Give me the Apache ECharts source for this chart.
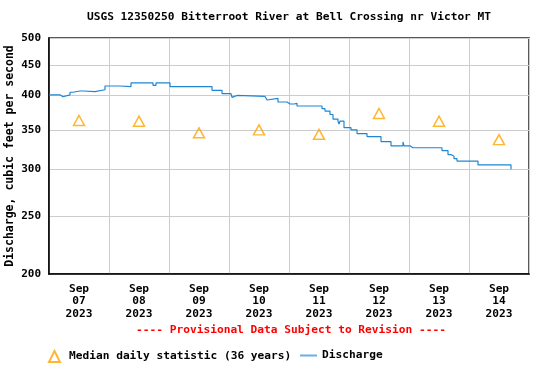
<!DOCTYPE html>
<html><head><meta charset="utf-8">
<script src="https://cdn.jsdelivr.net/npm/echarts@6/dist/echarts.min.js"></script>
<style>html,body{margin:0;padding:0;background:#fff}#c{width:550px;height:367px}</style>
</head><body><div id="c"></div><script>
const titleText = 'USGS 12350250 Bitterroot River at Bell Crossing nr Victor MT';
const noteText = '---- Provisional Data Subject to Revision ----';
const yAxisName = 'Discharge, cubic feet per second';
const medianName = 'Median daily statistic (36 years)';
const dischargeName = 'Discharge';
const startDay = [2023, 8, 7];
const dayCount = 8;
const yTicks = [200, 250, 300, 350, 400, 450, 500];
// median daily statistic, one per day (at noon)
const medianValues = [363, 362, 346, 350, 344, 373, 362, 337];
// discharge step breakpoints: hours since Sep 07 00:00 and cfs
const dischargeHours = [0, 4.4, 5.6, 8.4, 9.6, 12.4, 13.2, 14, 14.4, 18.4, 22.4, 26.4, 27.2, 28.4, 29.2, 32.8, 41.6, 42.8,
  48.4, 50, 50.8, 54, 54.8, 55.6, 56.4, 65.2, 69.2, 72.8, 73.2, 73.6, 75.2, 86.4, 87.2, 87.6, 91.6,
  95.2, 96.4, 96.8, 98, 98.8, 99.2, 109.2, 110.4, 112.4, 113.6, 115.6, 116, 116.4, 118, 120.8, 123.2, 127.2,
  132.8, 136.8, 141.6, 142, 144.4, 144.8, 145.2, 145.6, 146, 157.2, 159.6, 160.8, 162, 163.2, 171.6, 184.8];
const dischargeValues = [401, 398, 401, 405, 407, 405, 407, 409, 406, 409, 415, 412, 415, 412, 414, 420, 416, 420,
  414, 411, 414, 411, 414, 411, 414, 408, 403, 400, 397, 400, 398.5, 395.5, 393, 395.5, 390,
  387, 385, 387, 385, 388, 384, 380, 376.5, 371.5, 365, 362, 358, 362, 353, 350, 345, 341,
  334.5, 329, 334, 329, 326.5, 329, 326.5, 329, 326.5, 323, 318, 316, 313, 310, 305.5, 300.5];

const HOUR = 3600000, DAY = 24 * HOUR;
const t0 = Date.UTC(startDay[0], startDay[1], startDay[2]);
const noons = [], mids = [];
for (let i = 0; i < dayCount; i++) noons.push(t0 + i * DAY + 12 * HOUR);
for (let i = 0; i <= dayCount; i++) mids.push(t0 + i * DAY);
const months = ['Jan','Feb','Mar','Apr','May','Jun','Jul','Aug','Sep','Oct','Nov','Dec'];
const pad = n => (n < 10 ? '0' : '') + n;
const fmtDay = v => { const d = new Date(v); return months[d.getUTCMonth()] + '\n' + pad(d.getUTCDate()) + '\n' + d.getUTCFullYear(); };

const font = 'DejaVu Sans Mono';
const chart = echarts.init(document.getElementById('c'), null, {renderer: 'canvas'});
chart.setOption({
  animation: false,
  backgroundColor: '#fff',
  textStyle: {fontFamily: font, fontWeight: 'bold', color: '#000'},
  title: [
    {text: titleText, left: 289, top: 12, textAlign: 'center', padding: 0,
     textStyle: {fontFamily: font, fontWeight: 'bold', fontSize: 11.2, color: '#000'}},
    {text: noteText, left: 291, top: 325, textAlign: 'center', padding: 0,
     textStyle: {fontFamily: font, fontWeight: 'bold', fontSize: 11.2, color: '#ff0000'}}
  ],
  legend: [
    {left: 48, top: 350, padding: 0, itemWidth: 11, itemHeight: 11, itemGap: 0,
     data: [medianName], textStyle: {fontFamily: font, fontWeight: 'bold', fontSize: 11.2, color: '#000', padding: [0, 0, 0, 4]}},
    {left: 299, top: 350, padding: 0, itemWidth: 17, itemHeight: 11, itemGap: 0,
     itemStyle: {opacity: 0}, lineStyle: {color: '#6aaee2', width: 2},
     data: [dischargeName], textStyle: {fontFamily: font, fontWeight: 'bold', fontSize: 11.2, color: '#000'}}
  ],
  grid: {left: 49, right: 21, top: 38, bottom: 93, containLabel: false, outerBoundsMode: 'none',
    show: true, borderColor: '#222', borderWidth: 1.5, backgroundColor: 'transparent'},
  xAxis: {
    type: 'value', min: mids[0], max: mids[dayCount],
    axisLine: {show: true, lineStyle: {color: '#000', width: 1.5}},
    axisTick: {show: false, customValues: mids},
    splitLine: {show: true, lineStyle: {color: '#cccccc', width: 1}},
    axisLabel: {customValues: noons, formatter: fmtDay, fontFamily: font, fontWeight: 'bold', fontSize: 11.2,
      color: '#000', lineHeight: 12.3, margin: 9, hideOverlap: false}
  },
  yAxis: {
    type: 'log', logBase: 10, min: 200, max: 500,
    name: yAxisName, nameLocation: 'middle', nameGap: 33, nameRotate: 90, nameMoveOverlap: false,
    nameTextStyle: {fontFamily: font, fontWeight: 'bold', fontSize: 11.5, color: '#000'},
    axisLine: {show: true, lineStyle: {color: '#000', width: 1.5}},
    axisTick: {show: false, customValues: yTicks},
    splitLine: {show: true, lineStyle: {color: '#cccccc', width: 1}},
    axisLabel: {customValues: yTicks, fontFamily: font, fontWeight: 'bold', fontSize: 11, color: '#000', margin: 8}
  },
  series: [
    {name: dischargeName, type: 'line', step: 'end', symbol: 'none', z: 3,
     lineStyle: {color: '#1f86d4', width: 1.2}, itemStyle: {color: '#5aaae2'},
     data: dischargeHours.map((h, i) => [t0 + h * HOUR, dischargeValues[i]])},
    {name: medianName, type: 'scatter', symbol: 'triangle', symbolSize: [11, 10], z: 4,
     itemStyle: {color: 'rgba(255,255,255,0)', borderColor: '#ffa500', borderWidth: 1.5},
     data: noons.map((t, i) => [t, medianValues[i]])}
  ]
});
</script></body></html>
